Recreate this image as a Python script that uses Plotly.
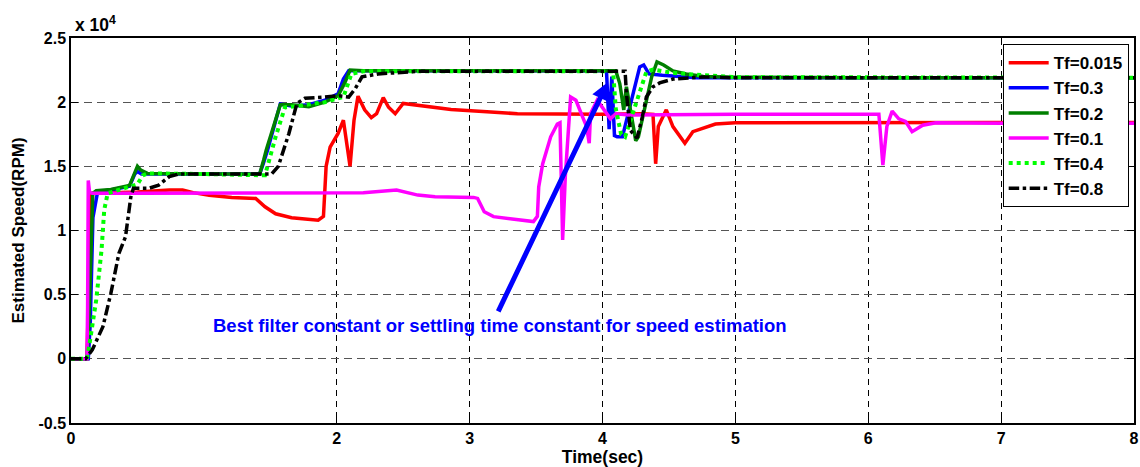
import plotly.graph_objects as go

# ---- data (time in s, speed in RPM) ----
t_red = [0, 0.12, 0.135, 0.15, 0.3, 0.5, 0.74, 0.84, 0.92, 1.04, 1.21, 1.39, 1.46, 1.54, 1.66, 1.80,
         1.86, 1.90, 1.92, 1.95, 2.01, 2.05, 2.07, 2.10, 2.13, 2.16, 2.21, 2.26, 2.30, 2.35, 2.39, 2.44,
         2.50, 2.61, 2.86, 3.13, 3.36, 3.98, 4.10, 4.30, 4.38, 4.40, 4.42, 4.48, 4.53, 4.62, 4.68, 4.76,
         4.85, 5.0, 5.5, 6.0, 6.5, 7.0, 7.5, 8.0]
y_red = [0, 0, 6000, 12900, 12950, 13000, 13150, 13150, 12950, 12750, 12580, 12500, 11850, 11300, 11000, 10850,
         10800, 11100, 15000, 16500, 17560, 18600, 17300, 15000, 18600, 20470, 19400, 18800, 19100, 20360, 19600, 19100,
         19900, 19770, 19430, 19250, 19100, 19060, 19100, 19100, 19050, 15200, 18100, 19400, 18100, 16800, 17700, 18000,
         18300, 18400, 18420, 18400, 18420, 18420, 18400, 18420]

t_mag = [0, 0.12, 0.125, 0.13, 0.14, 0.16, 0.5, 1.0, 1.5, 1.9, 2.2, 2.45, 2.61, 2.74, 3.03, 3.06, 3.11, 3.18,
         3.28, 3.48, 3.51, 3.52, 3.55, 3.61, 3.66, 3.68, 3.70, 3.72, 3.76, 3.80, 3.85, 3.88, 3.90, 3.91, 3.96,
         4.01, 4.06, 4.10, 4.2, 5.0, 6.08, 6.11, 6.14, 6.18, 6.23, 6.28, 6.33, 6.41, 6.51, 7.0, 8.0]
y_mag = [0, 0, 4000, 13900, 12950, 12900, 12900, 12900, 12900, 12920, 12950, 13150, 12760, 12630, 12580, 12500, 11460, 11080,
         10950, 10700, 11100, 13400, 15200, 17300, 18300, 18400, 9260, 14200, 20400, 20150, 18860, 18100, 16800, 19100, 20150,
         19400, 18700, 19100, 19000, 19050, 19060, 15100, 18100, 19300, 18700, 18500, 17700, 18200, 18400, 18350, 18350]

t_blue = [0, 0.13, 0.145, 0.165, 0.2, 0.21, 0.3, 0.44, 0.48, 0.50, 0.53, 0.58, 1.0, 1.42, 1.45, 1.48, 1.575,
          1.66, 1.79, 1.91, 2.01, 2.05, 2.09, 2.2, 3.0, 4.03, 4.05, 4.07, 4.09, 4.11, 4.15, 4.18, 4.23, 4.28,
          4.31, 4.35, 4.45, 4.71, 5.0, 6.0, 8.0]
y_blue = [0, 0, 2800, 11000, 13000, 13050, 13150, 13450, 14400, 14600, 14400, 14400, 14400, 14400, 15300, 16300, 19850,
          19700, 19800, 20150, 20650, 21800, 22450, 22450, 22450, 22450, 17900, 22000, 17400, 17300, 17300, 18600, 20700, 22750,
          22900, 22200, 22100, 21900, 21900, 21900, 21900]

t_green = [0, 0.12, 0.135, 0.15, 0.164, 0.19, 0.3, 0.44, 0.50, 0.525, 0.575, 1.0, 1.42, 1.45, 1.47, 1.575, 1.66,
           1.79, 1.91, 2.01, 2.06, 2.10, 2.2, 3.0, 4.10, 4.13, 4.16, 4.18, 4.21, 4.25, 4.27, 4.32, 4.37, 4.41,
           4.46, 4.53, 4.63, 4.76, 5.0, 6.0, 8.0]
y_green = [0, 0, 3000, 8200, 12900, 13100, 13200, 13500, 15000, 14700, 14450, 14400, 14400, 15500, 16300, 19800, 19800,
           19650, 20000, 20500, 21500, 22500, 22450, 22450, 22450, 21450, 19400, 21200, 19500, 17000, 17300, 19600, 21970, 23140,
           22900, 22430, 22200, 22000, 21950, 21900, 21900]

t_lime = [0, 0.12, 0.14, 0.19, 0.23, 0.25, 0.276, 0.35, 0.44, 0.50, 0.54, 0.58, 1.0, 1.46, 1.54, 1.61, 1.70,
          1.79, 1.91, 2.01, 2.05, 2.11, 2.2, 3.0, 4.08, 4.10, 4.14, 4.17, 4.22, 4.26, 4.30, 4.33, 4.38, 4.53,
          4.76, 5.0, 8.0]
y_lime = [0, 0, 1200, 4600, 8500, 11600, 12900, 13150, 13400, 13600, 14300, 14450, 14400, 14300, 17300, 19600, 19700,
          19800, 20000, 20300, 20400, 22200, 22400, 22400, 22400, 19500, 17500, 17300, 18860, 20150, 21450, 22360, 22540, 22280,
          22100, 21950, 21900]

t_black = [0, 0.11, 0.16, 0.24, 0.30, 0.36, 0.41, 0.45, 0.47, 0.59, 0.66, 0.74, 0.81, 1.0, 1.51, 1.56, 1.64,
           1.70, 1.76, 1.91, 2.01, 2.09, 2.14, 2.19, 2.31, 2.61, 3.0, 4.17, 4.18, 4.21, 4.26, 4.30, 4.33, 4.38,
           4.43, 4.53, 4.76, 5.0, 8.0]
y_black = [0, 0, 700, 2500, 5100, 8200, 9500, 12600, 13300, 13300, 13540, 14200, 14400, 14400, 14400, 15000, 17560,
           19900, 20300, 20400, 20500, 20400, 21070, 21970, 22200, 22400, 22400, 22400, 20700, 17800, 17200, 18860, 20400,
           21200, 21500, 21800, 21970, 21900, 21900]

series = [
    ("Tf=0.015", t_red, y_red, "#ff0000", "solid", 3.5),
    ("Tf=0.3", t_blue, y_blue, "#0000ff", "solid", 3.5),
    ("Tf=0.2", t_green, y_green, "#007f00", "solid", 3.5),
    ("Tf=0.1", t_mag, y_mag, "#ff00ff", "solid", 3.5),
    ("Tf=0.4", t_lime, y_lime, "#00ff00", "dot", 4),
    ("Tf=0.8", t_black, y_black, "#000000", "dashdot", 3.5),
]

x_ticks = [0, 2, 3, 4, 5, 6, 7, 8]
y_ticks = [-5000, 0, 5000, 10000, 15000, 20000, 25000]
y_ticktext = ["-0.5", "0", "0.5", "1", "1.5", "2", "2.5"]

FONT = "Liberation Sans, Arial, sans-serif"

fig = go.Figure()
for name, t, y, c, d, w in series:
    fig.add_trace(go.Scatter(x=t, y=y, mode="lines", name=name,
                             line=dict(color=c, dash=d, width=w)))

fig.update_layout(
    width=1140, height=467,
    margin=dict(l=71, r=1, t=38, b=44),
    paper_bgcolor="white", plot_bgcolor="white",
    font=dict(family=FONT, size=16, color="black", weight="bold"),
    legend=dict(x=0.995, y=0.984, xanchor="right", yanchor="top",
                bgcolor="white", bordercolor="black", borderwidth=1,
                font=dict(size=17, weight="bold"), itemwidth=40,
                tracegroupgap=0),
    showlegend=True,
)
fig.update_xaxes(range=[0, 8], tickvals=x_ticks, showline=True, linecolor="black", linewidth=1.5,
                 mirror="ticks", ticks="inside", ticklen=7, tickcolor="black",
                 showgrid=True, gridcolor="black", griddash="6px,5px", gridwidth=1,
                 zeroline=False, tickfont=dict(size=16, weight="bold"), ticklabeloverflow="allow",
                 title=dict(text="Time(sec)", font=dict(size=17.5, weight="bold"), standoff=2))
fig.update_yaxes(range=[-5000, 25000], tickvals=y_ticks, ticktext=y_ticktext,
                 showline=True, linecolor="black", linewidth=1.5,
                 mirror="ticks", ticks="inside", ticklen=7, tickcolor="black",
                 showgrid=True, gridcolor="#555555", griddash="8px,5px", gridwidth=1,
                 zeroline=False, tickfont=dict(size=16, weight="bold"),
                 title=dict(text="Estimated Speed(RPM)", font=dict(size=17, weight="bold"), standoff=10))

fig.add_annotation(xref="paper", yref="paper", x=0.002, y=1.0, xanchor="left", yanchor="bottom",
                   text="x 10<sup>4</sup>", showarrow=False, font=dict(size=17.5, weight="bold"), yshift=1)
fig.add_annotation(x=1.05, y=2570, xref="x", yref="y", xanchor="left", yanchor="middle",
                   text="Best filter constant or settling time constant for speed estimation",
                   showarrow=False, font=dict(size=18.5, color="#0000ff", weight="bold"))
fig.add_annotation(x=4.04, y=21560, ax=3.21, ay=3580, xref="x", yref="y", axref="x", ayref="y",
                   text="", showarrow=True, arrowhead=2, arrowsize=0.7, arrowwidth=5, arrowcolor="#0000ff")

fig.write_html("out.html")
